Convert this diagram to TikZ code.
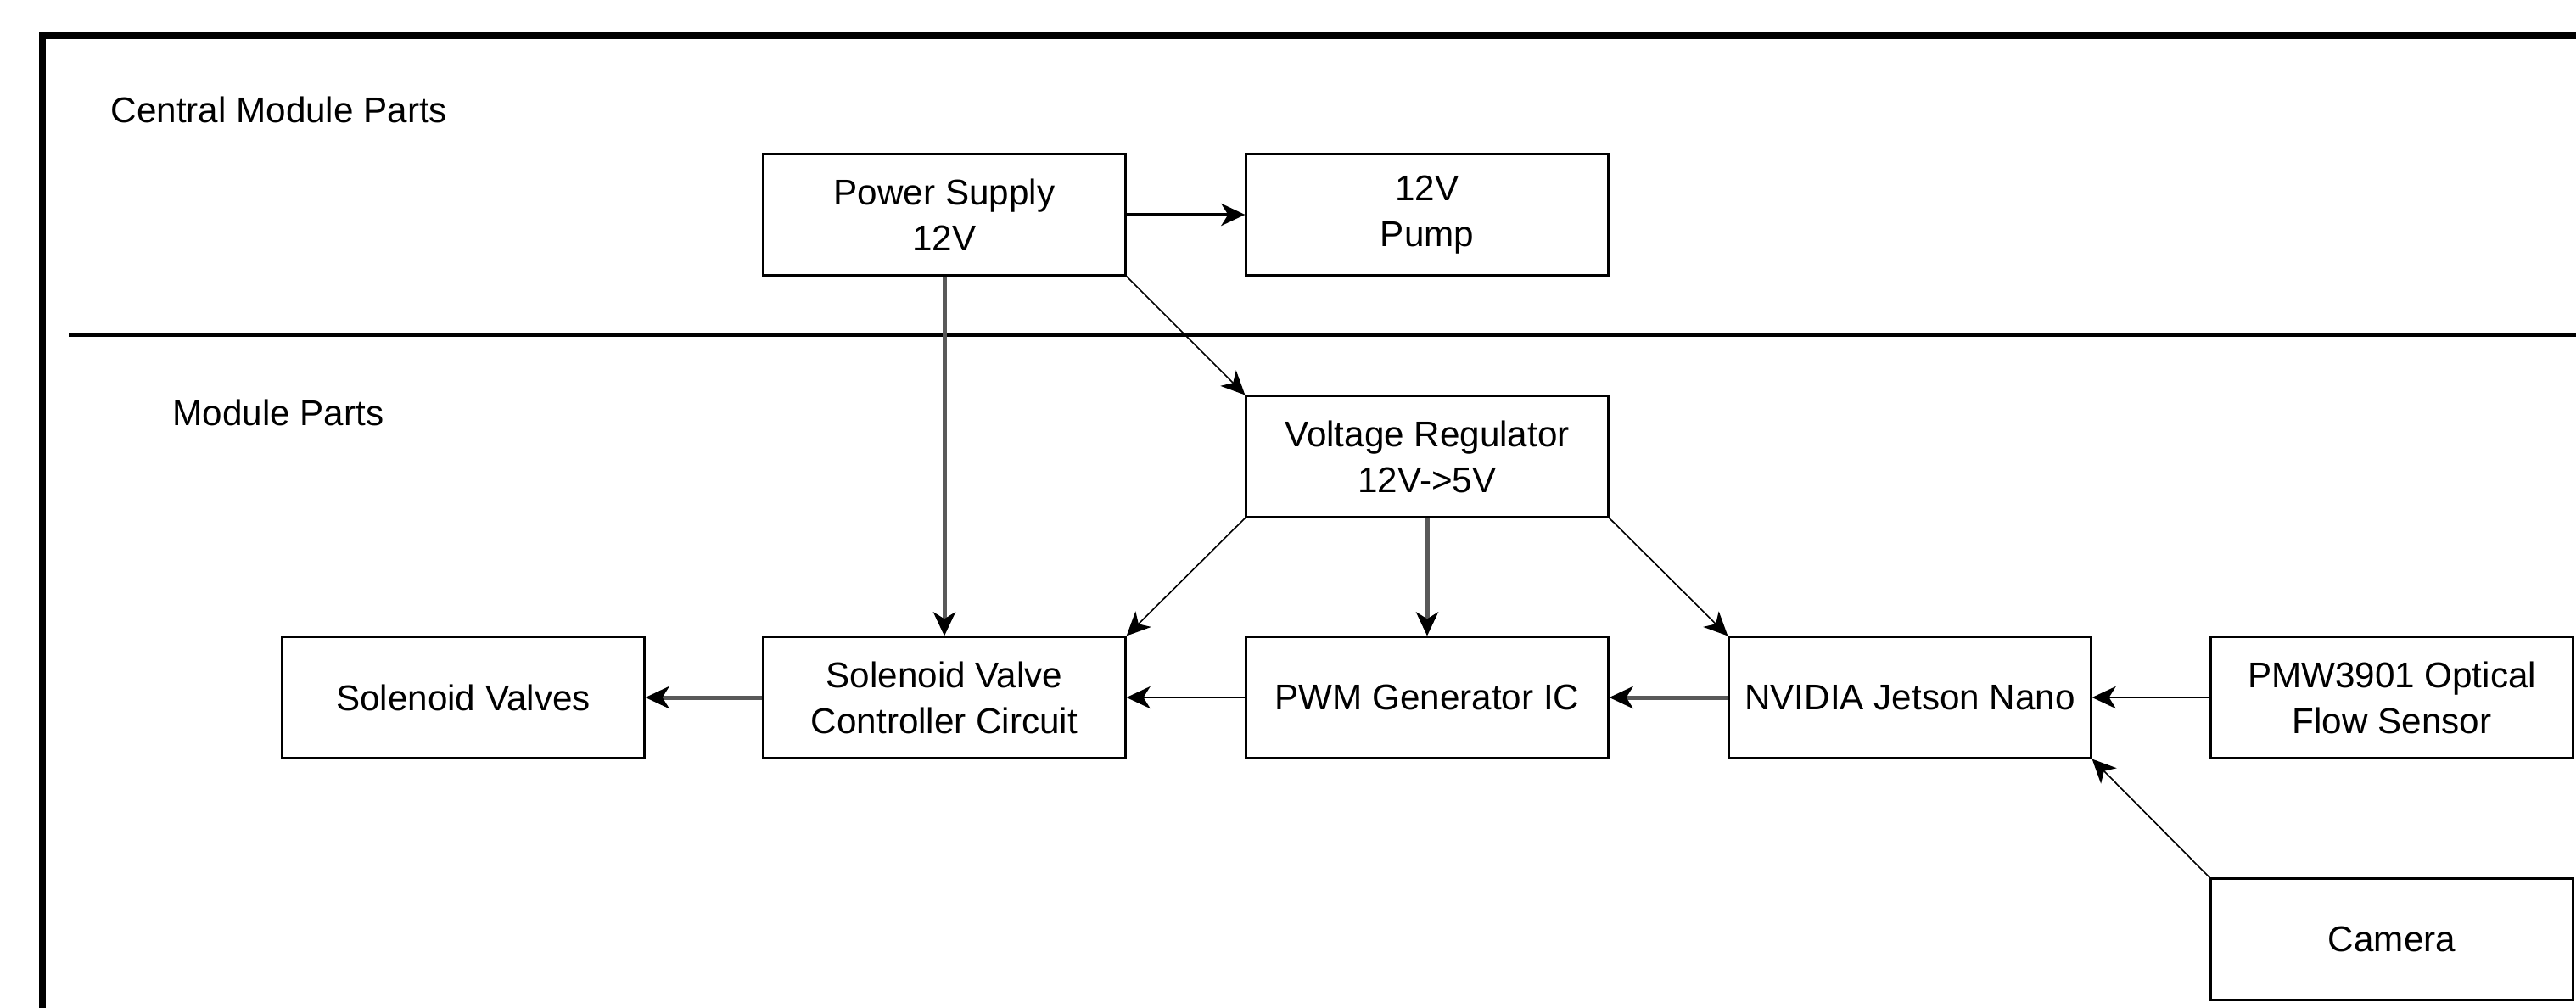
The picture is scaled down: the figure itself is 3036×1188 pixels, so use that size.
\documentclass[tikz,border=0pt]{standalone}
\usepackage{fontspec}
\setmainfont{Liberation Sans}
\usetikzlibrary{arrows.meta}
\begin{document}
\begin{tikzpicture}[x=0.01cm,y=-0.01cm,
  box/.style={draw,line width=0.03cm,minimum width=4.26cm,minimum height=1.42cm,
    align=center,inner sep=0pt,font=\fontsize{12}{15.4}\selectfont},
  lbl/.style={anchor=base west,inner sep=0pt,font=\fontsize{12}{15.4}\selectfont},
  tip/.style={-{Stealth[length=0.28cm,width=0.26cm,inset=0.08cm,color=black]}},
  solidln/.style={tip,line width=0.028cm,black},
  boldln/.style={tip,line width=0.045cm,black},
  greyln/.style={tip,line width=0.05cm,black!65},
  thinln/.style={tip,line width=0.016cm,black}]
\path[use as bounding box] (0,0) rectangle (3036,1188);
\clip (0,0) rectangle (3036,1188);
% frame
\draw[line width=0.08cm] (50,1400) -- (50,42) -- (3200,42);
% separator
\draw[line width=0.04cm] (81,395) -- (3100,395);
% labels
\node[lbl] (lc) at (130,145) {Central Module Parts};
\node[lbl] (lm) at (203,501) {Module Parts};
% boxes
\node[box] (ps)   at (1113,253) {Power Supply\\12V};
\node[box] (pump) at (1682,253) {12V\\Pump};
\node[box] (vr)   at (1682,538) {Voltage Regulator\\12V->5V};
\node[box] (sv)   at (546,822)  {Solenoid Valves};
\node[box] (svc)  at (1113,822) {Solenoid Valve\\Controller Circuit};
\node[box] (pwm)  at (1682,822) {PWM Generator IC};
\node[box] (jet)  at (2251,822) {NVIDIA Jetson Nano};
\node[box] (pmw)  at (2819,822) {PMW3901 Optical\\Flow Sensor};
\node[box] (cam)  at (2819,1107) {Camera};
% connectors
\draw[boldln] (ps.east) -- (pump.west);
\draw[thinln] (ps.south east) -- (vr.north west);
\draw[greyln] (ps.south) -- (svc.north);
\draw[thinln] (vr.south west) -- (svc.north east);
\draw[greyln] (vr.south) -- (pwm.north);
\draw[thinln] (vr.south east) -- (jet.north west);
\draw[greyln] (svc.west) -- (sv.east);
\draw[solidln] (pwm.west) -- (svc.east);
\draw[greyln] (jet.west) -- (pwm.east);
\draw[solidln] (pmw.west) -- (jet.east);
\draw[thinln] (cam.north west) -- (jet.south east);
\end{tikzpicture}
\end{document}
